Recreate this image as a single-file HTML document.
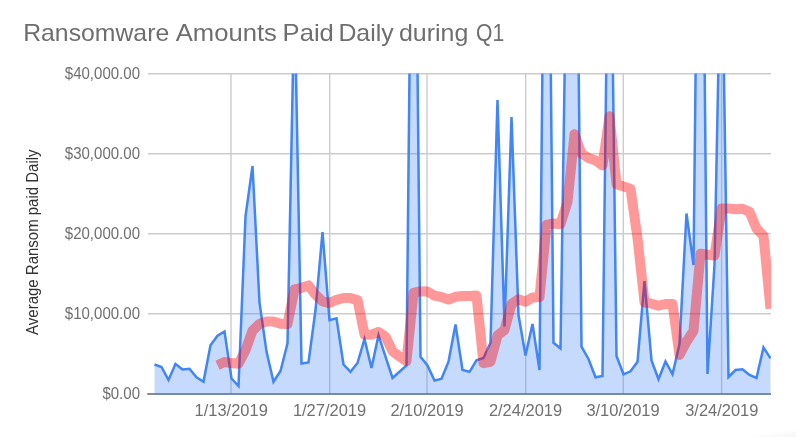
<!DOCTYPE html>
<html lang="en"><head><meta charset="utf-8"><title>Ransomware Amounts Paid Daily during Q1</title>
<style>
html,body{margin:0;padding:0;background:#fff;}
body{width:796px;height:437px;overflow:hidden;}
svg{display:block;font-family:"Liberation Sans",sans-serif;}
.title{font-size:24px;fill:#6e6e6e;}
.tick{font-size:15.7px;fill:#707070;}
.atitle{font-size:16px;fill:#333333;}
</style></head><body>
<svg width="796" height="437" viewBox="0 0 796 437">
<rect width="796" height="437" fill="#ffffff"/>
<defs><linearGradient id="cs" x1="0" y1="0" x2="1" y2="1"><stop offset="0.6" stop-color="#ffffff"/><stop offset="1" stop-color="#f5f5f5"/></linearGradient><filter id="soft" x="-2%" y="-2%" width="104%" height="104%"><feGaussianBlur stdDeviation="0.35"/></filter><clipPath id="plot"><rect x="148" y="73.5" width="623" height="321.5"/></clipPath></defs>
<text y="41.4" class="title" xml:space="preserve"><tspan x="23.20" textLength="146.00" lengthAdjust="spacingAndGlyphs">Ransomware</tspan> <tspan x="175.80" textLength="101.00" lengthAdjust="spacingAndGlyphs">Amounts</tspan> <tspan x="282.60" textLength="51.20" lengthAdjust="spacingAndGlyphs">Paid</tspan> <tspan x="338.40" textLength="55.20" lengthAdjust="spacingAndGlyphs">Daily</tspan> <tspan x="399.00" textLength="69.30" lengthAdjust="spacingAndGlyphs">during</tspan> <tspan x="476.00" textLength="28.20" lengthAdjust="spacingAndGlyphs">Q1</tspan></text>
<line x1="148" y1="73.7" x2="771" y2="73.7" stroke="#cccccc" stroke-width="1.4"/>
<line x1="148" y1="153.7" x2="771" y2="153.7" stroke="#cccccc" stroke-width="1.4"/>
<line x1="148" y1="233.7" x2="771" y2="233.7" stroke="#cccccc" stroke-width="1.4"/>
<line x1="148" y1="313.7" x2="771" y2="313.7" stroke="#cccccc" stroke-width="1.4"/>
<line x1="231" y1="73" x2="231" y2="393.5" stroke="#cccccc" stroke-width="1.4"/>
<line x1="329.7" y1="73" x2="329.7" y2="393.5" stroke="#cccccc" stroke-width="1.4"/>
<line x1="427" y1="73" x2="427" y2="393.5" stroke="#cccccc" stroke-width="1.4"/>
<line x1="525.7" y1="73" x2="525.7" y2="393.5" stroke="#cccccc" stroke-width="1.4"/>
<line x1="623.3" y1="73" x2="623.3" y2="393.5" stroke="#cccccc" stroke-width="1.4"/>
<line x1="721.6" y1="73" x2="721.6" y2="393.5" stroke="#cccccc" stroke-width="1.4"/>
<line x1="147.2" y1="394" x2="771" y2="394" stroke="#666666" stroke-width="1.7"/>

<rect x="716" y="427" width="80" height="10" fill="url(#cs)"/>
<g clip-path="url(#plot)"><g filter="url(#soft)">
<polygon points="154.50,395 154.50,364.50 161.50,367.00 168.50,380.00 175.50,364.00 182.50,369.50 189.50,368.70 196.50,377.30 203.50,381.80 210.50,345.30 217.50,335.80 224.50,331.50 231.50,378.50 238.50,386.00 245.50,216.40 252.50,166.00 259.50,302.60 266.50,351.60 273.50,381.80 280.50,371.00 287.50,343.30 294.50,-5.00 301.50,363.50 308.50,362.50 315.50,310.00 322.50,232.00 329.50,320.20 336.50,318.40 343.50,364.50 350.50,371.80 357.50,363.00 364.50,339.00 371.50,368.00 378.50,335.30 385.50,356.70 392.50,378.00 399.50,371.80 406.50,365.50 413.50,-319.00 420.50,356.70 427.50,365.50 434.50,380.60 441.50,378.80 448.50,361.70 455.50,324.50 462.50,370.00 469.50,371.80 476.50,360.40 483.50,358.00 490.50,342.80 497.50,100.00 504.50,326.50 511.50,117.00 518.50,315.00 525.50,355.50 532.50,324.00 539.50,370.00 546.50,-360.00 553.50,342.80 560.50,348.40 567.50,-118.00 574.50,-343.00 581.50,346.60 588.50,359.00 595.50,377.30 602.50,376.00 609.50,-200.00 616.50,356.00 623.50,374.30 630.50,371.30 637.50,361.70 644.50,281.00 651.50,360.40 658.50,379.30 665.50,361.50 672.50,374.30 679.50,344.00 686.50,213.50 693.50,265.00 700.50,-379.00 707.50,374.00 714.50,265.00 721.50,-90.00 728.50,377.00 735.50,370.00 742.50,369.20 749.50,375.00 756.50,378.00 763.50,347.40 770.50,358.40 770.50,395" fill="#4285f4" fill-opacity="0.3"/>
<polyline points="154.50,364.50 161.50,367.00 168.50,380.00 175.50,364.00 182.50,369.50 189.50,368.70 196.50,377.30 203.50,381.80 210.50,345.30 217.50,335.80 224.50,331.50 231.50,378.50 238.50,386.00 245.50,216.40 252.50,166.00 259.50,302.60 266.50,351.60 273.50,381.80 280.50,371.00 287.50,343.30 294.50,-5.00 301.50,363.50 308.50,362.50 315.50,310.00 322.50,232.00 329.50,320.20 336.50,318.40 343.50,364.50 350.50,371.80 357.50,363.00 364.50,339.00 371.50,368.00 378.50,335.30 385.50,356.70 392.50,378.00 399.50,371.80 406.50,365.50 413.50,-319.00 420.50,356.70 427.50,365.50 434.50,380.60 441.50,378.80 448.50,361.70 455.50,324.50 462.50,370.00 469.50,371.80 476.50,360.40 483.50,358.00 490.50,342.80 497.50,100.00 504.50,326.50 511.50,117.00 518.50,315.00 525.50,355.50 532.50,324.00 539.50,370.00 546.50,-360.00 553.50,342.80 560.50,348.40 567.50,-118.00 574.50,-343.00 581.50,346.60 588.50,359.00 595.50,377.30 602.50,376.00 609.50,-200.00 616.50,356.00 623.50,374.30 630.50,371.30 637.50,361.70 644.50,281.00 651.50,360.40 658.50,379.30 665.50,361.50 672.50,374.30 679.50,344.00 686.50,213.50 693.50,265.00 700.50,-379.00 707.50,374.00 714.50,265.00 721.50,-90.00 728.50,377.00 735.50,370.00 742.50,369.20 749.50,375.00 756.50,378.00 763.50,347.40 770.50,358.40" fill="none" stroke="#4285f4" stroke-width="2.5"/>
<polyline points="217.50,365.30 224.50,362.00 231.50,363.10 238.50,363.80 245.50,350.20 252.50,330.60 259.50,324.00 266.50,321.40 273.50,321.40 280.50,323.70 287.50,324.00 294.50,289.30 301.50,287.80 308.50,285.40 315.50,294.70 322.50,301.30 329.50,303.10 336.50,299.80 343.50,298.00 350.50,298.10 357.50,300.10 364.50,334.50 371.50,334.70 378.50,332.00 385.50,336.60 392.50,351.20 399.50,356.40 406.50,361.10 413.50,292.80 420.50,291.20 427.50,291.50 434.50,295.70 441.50,297.00 448.50,299.60 455.50,296.80 462.50,296.00 469.50,296.00 476.50,295.50 483.50,363.20 490.50,361.80 497.50,335.40 504.50,330.00 511.50,303.90 518.50,299.30 525.50,301.80 532.50,297.40 539.50,297.10 546.50,225.00 553.50,223.50 560.50,224.10 567.50,202.10 574.50,134.20 581.50,153.60 588.50,158.00 595.50,160.40 602.50,165.40 609.50,116.30 616.50,184.20 623.50,186.60 630.50,188.80 637.50,238.30 644.50,302.30 651.50,303.70 658.50,305.70 665.50,304.00 672.50,303.90 679.50,355.00 686.50,341.70 693.50,330.70 700.50,253.70 707.50,254.80 714.50,255.50 721.50,208.50 728.50,208.40 735.50,209.30 742.50,208.80 749.50,211.90 756.50,228.50 763.50,236.00 770.50,308.70" fill="none" stroke="#ff0000" stroke-opacity="0.4" stroke-width="10" stroke-linejoin="round"/>
</g></g>
<text x="64.80" y="79" textLength="75.2" lengthAdjust="spacingAndGlyphs" class="tick">$40,000.00</text>
<text x="64.80" y="159" textLength="75.2" lengthAdjust="spacingAndGlyphs" class="tick">$30,000.00</text>
<text x="64.80" y="239" textLength="75.2" lengthAdjust="spacingAndGlyphs" class="tick">$20,000.00</text>
<text x="64.80" y="319" textLength="75.2" lengthAdjust="spacingAndGlyphs" class="tick">$10,000.00</text>
<text x="102.40" y="399.4" textLength="37.6" lengthAdjust="spacingAndGlyphs" class="tick">$0.00</text>

<text x="194.60" y="415.8" textLength="73.2" lengthAdjust="spacingAndGlyphs" class="tick">1/13/2019</text>
<text x="292.90" y="415.8" textLength="73.2" lengthAdjust="spacingAndGlyphs" class="tick">1/27/2019</text>
<text x="390.40" y="415.8" textLength="73.2" lengthAdjust="spacingAndGlyphs" class="tick">2/10/2019</text>
<text x="488.90" y="415.8" textLength="73.2" lengthAdjust="spacingAndGlyphs" class="tick">2/24/2019</text>
<text x="586.40" y="415.8" textLength="73.2" lengthAdjust="spacingAndGlyphs" class="tick">3/10/2019</text>
<text x="685.20" y="415.8" textLength="73.2" lengthAdjust="spacingAndGlyphs" class="tick">3/24/2019</text>

<text transform="translate(38.3,334.9) rotate(-90)" textLength="185.5" lengthAdjust="spacingAndGlyphs" class="atitle">Average Ransom paid Daily</text>
</svg>
</body></html>
